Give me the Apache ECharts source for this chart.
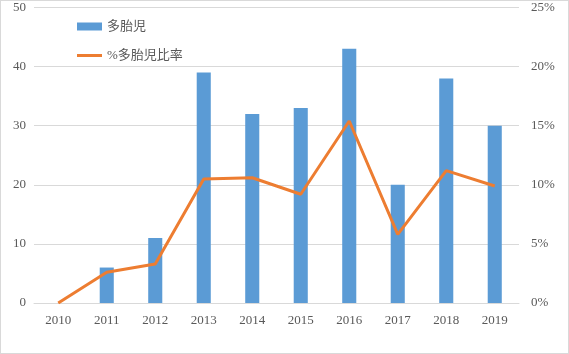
<!DOCTYPE html>
<html>
<head>
<meta charset="utf-8">
<script src="https://cdn.jsdelivr.net/npm/echarts@6/dist/echarts.min.js"></script>
<style>
html, body { margin: 0; padding: 0; background: #fff; }
#main { width: 567px; height: 352px; border: 1px solid #d9d9d9; }
</style>
</head>
<body>
<div id="main"></div>
<script>
var years = ['2010', '2011', '2012', '2013', '2014', '2015', '2016', '2017', '2018', '2019'];
var counts = [0, 6, 11, 39, 32, 33, 43, 20, 38, 30];
var rates = [0, 2.6, 3.3, 10.5, 10.6, 9.2, 15.4, 5.8, 11.2, 9.9];

var font = '"Liberation Serif", "Noto Sans CJK JP", serif';
var chart = echarts.init(document.getElementById('main'));
var option = {
	animation: false,
	textStyle: { fontFamily: font },
	grid: { left: 33, right: 49, top: 6, bottom: 50 },
	legend: {
		orient: 'vertical',
		left: 71,
		top: 14,
		itemWidth: 25,
		itemHeight: 8,
		itemGap: 16,
		textStyle: { fontSize: 13, color: '#595959', fontFamily: font },
		data: [
			{ name: '多胎児', icon: 'rect' },
			{ name: '%多胎児比率', icon: 'path://M0,0L25,0L25,3L0,3Z' }
		]
	},
	xAxis: {
		type: 'category',
		data: years,
		axisTick: { show: false },
		axisLine: { lineStyle: { color: '#d9d9d9' } },
		axisLabel: { color: '#595959', fontSize: 13, margin: 11 }
	},
	yAxis: [{
		type: 'value',
		min: 0, max: 50, interval: 10,
		axisLabel: { color: '#595959', fontSize: 13, margin: 8 },
		splitLine: { lineStyle: { color: '#d9d9d9' } }
	}, {
		type: 'value',
		min: 0, max: 25, interval: 5,
		axisLabel: { color: '#595959', fontSize: 13, margin: 12, formatter: '{value}%' },
		splitLine: { show: false }
	}],
	series: [{
		name: '多胎児',
		type: 'bar',
		data: counts,
		barWidth: '29%',
		itemStyle: { color: '#5b9bd5' }
	}, {
		name: '%多胎児比率',
		type: 'line',
		yAxisIndex: 1,
		data: rates,
		symbol: 'none',
		lineStyle: { color: '#ed7d31', width: 3 },
		itemStyle: { color: '#ed7d31' }
	}]
};
chart.setOption(option);
</script>
</body>
</html>
